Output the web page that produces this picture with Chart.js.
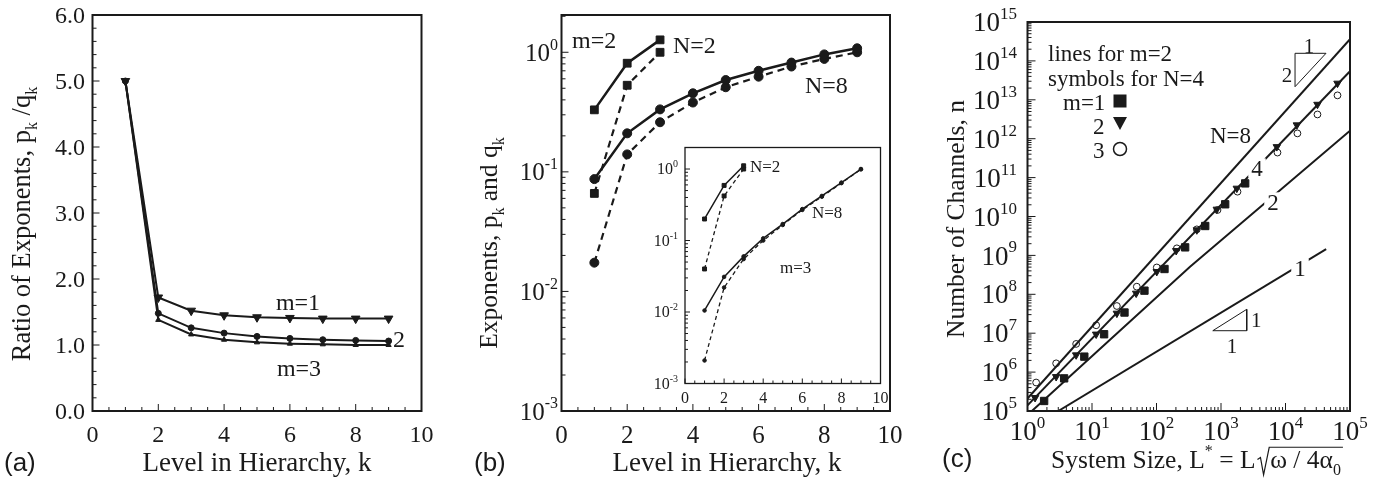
<!DOCTYPE html>
<html>
<head>
<meta charset="utf-8">
<script src="https://cdn.jsdelivr.net/npm/chart.js@4.4.1/dist/chart.umd.min.js"></script>
<style>
html, body { margin: 0; padding: 0; background: #fff; }
#wrap { position: relative; width: 1383px; height: 482px; overflow: hidden; }
canvas { position: absolute; left: 0; top: 0; }
</style>
</head>
<body>
<div id="wrap">
  <canvas id="chartA" width="1383" height="482"></canvas>
  <canvas id="chartB" width="1383" height="482"></canvas>
  <canvas id="chartC" width="1383" height="482"></canvas>
  <canvas id="chartInset" width="1383" height="482"></canvas>
</div>
<script>
// (a) ratio of exponents p_k/q_k
const levels = [1, 2, 3, 4, 5, 6, 7, 8, 9];
const ratioM1 = [5.0, 1.72, 1.52, 1.45, 1.42, 1.41, 1.40, 1.40, 1.40];
const ratioM2 = [5.0, 1.48, 1.26, 1.18, 1.13, 1.10, 1.08, 1.07, 1.06];
const ratioM3 = [5.0, 1.38, 1.16, 1.08, 1.04, 1.02, 1.01, 1.00, 1.00];
const ratioTicks = [0, 1, 2, 3, 4, 5, 6];
const ratioTickLabels = ['0.0', '1.0', '2.0', '3.0', '4.0', '5.0', '6.0'];
const levelTicks = [0, 2, 4, 6, 8, 10];
const levelTickLabels = ['0', '2', '4', '6', '8', '10'];

// (b) exponents, m=2 (solid = p, dashed = q)
const levelsN2 = [1, 2, 3];
const pN2 = [0.33, 0.81, 1.27];
const qN2 = [0.066, 0.53, 1.0];
const pN8 = [0.087, 0.21, 0.333, 0.454, 0.586, 0.70, 0.82, 0.96, 1.08];
const qN8 = [0.0174, 0.14, 0.26, 0.38, 0.51, 0.625, 0.76, 0.88, 1.0];
const exponentDecades = [-3, -2, -1, 0];

// (b) inset, m=3
const pN2m3 = [0.20, 0.59, 1.11];
const qN2m3 = [0.04, 0.42, 1.0];
const pN8m3 = [0.0105, 0.031, 0.060, 0.107, 0.17, 0.275, 0.42, 0.645, 1.0];
const qN8m3 = [0.0021, 0.022, 0.055, 0.100, 0.165, 0.268, 0.41, 0.635, 0.99];

// (c) number of channels, symbols for N=4
const sizeM1 = [1.81, 3.7, 7.6, 15.4, 31.9, 65, 133, 278, 569, 1161, 2371];
const chanM1 = [1.81e5, 6.9e5, 2.5e6, 9.4e6, 3.4e7, 1.24e8, 4.47e8, 1.61e9, 5.7e9, 2.06e10, 7.1e10];
const sizeM2 = [1.31, 2.78, 5.68, 11.6, 24.3, 48.4, 101, 202, 422, 861, 1758, 7340, 15000, 31300, 64000];
const chanM2 = [2.2e5, 7.6e5, 2.75e6, 9.4e6, 3.24e7, 1.06e8, 3.82e8, 1.32e9, 4.5e9, 1.53e10, 5.3e10, 6.2e11, 2.25e12, 7.6e12, 2.65e13];
const sizeM3 = [1.36, 2.78, 5.68, 11.6, 24.3, 49.5, 101, 207, 422, 883, 1803, 7510, 15300, 31300, 64000];
const chanM3 = [5.4e5, 1.68e6, 5.3e6, 1.6e7, 5.0e7, 1.57e8, 4.9e8, 1.52e9, 4.67e9, 1.47e10, 4.35e10, 4.4e11, 1.37e12, 4.2e12, 1.3e13];
// (c) lines for m=2
const lineSizeN8 = [1, 1e5];
const lineChanN8 = [2.1e5, 3.6e14];
const lineSizeN4 = [1, 1e5];
const lineChanN4 = [1.4e5, 5.4e13];
const lineSizeN2 = [1.17, 331, 1e5];
const lineChanN2 = [1e5, 5.1e8, 1.6e12];
const lineSizeN1 = [3.0, 4.27e4];
const lineChanN1 = [1e5, 1.45e9];
// slope triangles (2:1 and 1:1)
const triSize21 = [1.406e4, 4.246e4, 1.406e4, 1.406e4];
const triChan21 = [1.567e14, 1.567e14, 2.173e13, 1.567e14];
const triSize11 = [746, 2506, 2506, 746];
const triChan11 = [1.159e7, 4.11e7, 1.159e7, 1.159e7];
const channelDecades = [5, 6, 7, 8, 9, 10, 11, 12, 13, 14, 15];
const sizeDecades = [0, 1, 2, 3, 4, 5];

const W = 1383, H = 482;
const SERIF = '"Liberation Serif", "Times New Roman", serif';
const SANS = '"Liberation Sans", Arial, sans-serif';
const INK = '#1a1a1a';

function pts(xs, ys) {
    return xs.map((x, i) => ({ x: x, y: ys[i] }));
}

function series(xs, ys, o) {
    return Object.assign({
        data: pts(xs, ys),
        borderColor: INK,
        backgroundColor: INK,
        pointBackgroundColor: INK,
        pointBorderColor: INK,
        pointBorderWidth: 1,
        borderWidth: 2,
        pointRadius: 0,
        fill: false,
        tension: 0,
        showLine: true
    }, o);
}

// text with sub/superscript parts: [[text, 'sub'|'sup'|undefined], ...]
function rich(ctx, x, y, parts, size, align, family) {
    family = family || SERIF;
    const fonts = parts.map(p => (p[1] ? Math.round(size * 0.62) : size) + 'px ' + family);
    const widths = parts.map((p, i) => { ctx.font = fonts[i]; return ctx.measureText(p[0]).width; });
    const total = widths.reduce((s, w) => s + w, 0);
    let cx = align === 'center' ? x - total / 2 : align === 'right' ? x - total : x;
    ctx.textAlign = 'left';
    ctx.textBaseline = 'alphabetic';
    parts.forEach((p, i) => {
        ctx.font = fonts[i];
        const dy = p[1] === 'sup' ? -size * 0.45 : p[1] === 'sub' ? size * 0.28 : 0;
        ctx.fillText(p[0], cx, y + dy);
        cx += widths[i];
    });
    return total;
}
function textAt(ctx, x, yc, parts, size, align, family) {
    return rich(ctx, x, yc + size * 0.34, parts, size, align, family);
}
function vText(ctx, xc, yc, parts, size) {
    ctx.save();
    ctx.translate(xc, yc);
    ctx.rotate(-Math.PI / 2);
    rich(ctx, 0, size * 0.34, parts, size, 'center');
    ctx.restore();
}
function boxedText(ctx, xc, yc, str, size) {
    ctx.font = size + 'px ' + SERIF;
    const w = ctx.measureText(str).width;
    ctx.fillStyle = '#fff';
    ctx.fillRect(xc - w / 2 - 3, yc - size * 0.42, w + 6, size * 0.84);
    ctx.fillStyle = INK;
    textAt(ctx, xc, yc, [[str]], size, 'center');
}

function steps(from, to, step, skip) {
    const out = [];
    for (let v = from; v <= to + 1e-9; v += step) {
        const r = Math.round(v * 100) / 100;
        if (!skip || Math.abs(r / skip - Math.round(r / skip)) > 1e-6) out.push(r);
    }
    return out;
}
function logMinors(d0, d1, max) {
    const out = [];
    for (let d = d0; d < d1; d++) {
        for (let m = 2; m <= 9; m++) {
            const v = m * Math.pow(10, d);
            if (v <= max) out.push(v);
        }
    }
    return out;
}
function powLabels(decades) {
    return decades.map(e => [Math.pow(10, e), [['10'], [String(e), 'sup']]]);
}

// frame, inward ticks and tick labels
function frameAxes(o) {
    return {
        id: 'frameAxes',
        beforeDatasetsDraw(chart) {
            if (!o.whiteFill) return;
            const a = chart.chartArea, ctx = chart.ctx;
            ctx.save();
            ctx.fillStyle = '#fff';
            ctx.fillRect(a.left, a.top, a.right - a.left, a.bottom - a.top);
            ctx.restore();
        },
        afterDatasetsDraw(chart) {
            const ctx = chart.ctx, a = chart.chartArea;
            const sx = chart.scales.x, sy = chart.scales.y;
            ctx.save();
            ctx.strokeStyle = INK;
            ctx.lineWidth = 1;
            ctx.beginPath();
            o.xMajor.forEach(v => { const p = sx.getPixelForValue(v); ctx.moveTo(p, a.bottom); ctx.lineTo(p, a.bottom - o.majorLen); });
            o.xMinor.forEach(v => { const p = sx.getPixelForValue(v); ctx.moveTo(p, a.bottom); ctx.lineTo(p, a.bottom - o.minorLen); });
            o.yMajor.forEach(v => { const p = sy.getPixelForValue(v); ctx.moveTo(a.left, p); ctx.lineTo(a.left + o.majorLen, p); });
            o.yMinor.forEach(v => { const p = sy.getPixelForValue(v); ctx.moveTo(a.left, p); ctx.lineTo(a.left + o.minorLen, p); });
            ctx.stroke();
            ctx.lineWidth = o.frameWidth;
            ctx.strokeRect(a.left, a.top, a.right - a.left, a.bottom - a.top);

            ctx.fillStyle = INK;
            o.xLabels.forEach(l => textAt(ctx, sx.getPixelForValue(l[0]), o.xLabelY, l[1], o.tickSize, 'center'));
            o.yLabels.forEach(l => textAt(ctx, o.yLabelX, sy.getPixelForValue(l[0]), l[1], o.tickSize, 'right'));
            if (o.extra) o.extra(ctx, chart);
            ctx.restore();
        }
    };
}

function baseOptions(box, x, y) {
    return {
        responsive: false,
        animation: false,
        devicePixelRatio: 1,
        events: [],
        layout: { padding: { left: box.left, top: box.top, right: W - box.right, bottom: H - box.bottom } },
        plugins: { legend: { display: false }, tooltip: { enabled: false } },
        scales: { x: Object.assign({ display: false }, x), y: Object.assign({ display: false }, y) }
    };
}

// Panel (a)
new Chart(document.getElementById('chartA'), {
    type: 'line',
    data: {
        datasets: [
            series(levels, ratioM3, { pointStyle: 'triangle', pointRadius: 3 }),
            series(levels, ratioM2, { pointStyle: 'circle', pointRadius: 3 }),
            series(levels, ratioM1, { pointStyle: 'triangle', pointRotation: 180, pointRadius: 5 })
        ]
    },
    options: baseOptions({ left: 92.5, top: 15, right: 421.5, bottom: 411 },
        { type: 'linear', min: 0, max: 10 }, { type: 'linear', min: 0, max: 6 }),
    plugins: [frameAxes({
        xMajor: levelTicks, xMinor: steps(0, 10, 0.5, 2),
        yMajor: ratioTicks, yMinor: steps(0, 6, 0.2, 1),
        majorLen: 7, minorLen: 4, frameWidth: 2,
        xLabels: levelTicks.map((v, i) => [v, [[levelTickLabels[i]]]]), xLabelY: 434,
        yLabels: ratioTicks.map((v, i) => [v, [[ratioTickLabels[i]]]]), yLabelX: 85,
        tickSize: 24,
        extra(ctx) {
            textAt(ctx, 298, 302, [['m=1']], 24, 'center');
            textAt(ctx, 393, 339, [['2']], 24, 'left');
            textAt(ctx, 299, 368, [['m=3']], 24, 'center');
            vText(ctx, 21, 224, [['Ratio of Exponents, p'], ['k', 'sub'], [' /q'], ['k', 'sub']], 26.5);
            textAt(ctx, 257, 462, [['Level in Hierarchy, k']], 27, 'center');
            textAt(ctx, 4, 462, [['(a)']], 26, 'left', SANS);
        }
    })]
});

// Panel (b)
new Chart(document.getElementById('chartB'), {
    type: 'line',
    data: {
        datasets: [
            series(levelsN2, pN2, { pointStyle: 'rect', pointRadius: 5.5, borderWidth: 2.5 }),
            series(levelsN2, qN2, { pointStyle: 'rect', pointRadius: 5.5, borderWidth: 2.2, borderDash: [7, 5] }),
            series(levels, pN8, { pointStyle: 'circle', pointRadius: 4.5, borderWidth: 2.5 }),
            series(levels, qN8, { pointStyle: 'circle', pointRadius: 4.5, borderWidth: 2.2, borderDash: [7, 5] })
        ]
    },
    options: baseOptions({ left: 561.5, top: 15, right: 890, bottom: 411 },
        { type: 'linear', min: 0, max: 10 }, { type: 'logarithmic', min: 1e-3, max: 2.05 }),
    plugins: [frameAxes({
        xMajor: levelTicks, xMinor: steps(0, 10, 0.5, 2),
        yMajor: exponentDecades.map(e => Math.pow(10, e)), yMinor: logMinors(-3, 1, 2.05),
        majorLen: 7, minorLen: 4, frameWidth: 2,
        xLabels: levelTicks.map((v, i) => [v, [[levelTickLabels[i]]]]), xLabelY: 434,
        yLabels: powLabels(exponentDecades), yLabelX: 558,
        tickSize: 25,
        extra(ctx) {
            textAt(ctx, 572, 40, [['m=2']], 24, 'left');
            textAt(ctx, 673, 45, [['N=2']], 24, 'left');
            textAt(ctx, 805, 85, [['N=8']], 24, 'left');
            vText(ctx, 488, 243, [['Exponents, p'], ['k', 'sub'], [' and q'], ['k', 'sub']], 25.5);
            textAt(ctx, 727, 462, [['Level in Hierarchy, k']], 27, 'center');
            textAt(ctx, 474, 462, [['(b)']], 26, 'left', SANS);
        }
    })]
});

// Inset of (b), m=3
new Chart(document.getElementById('chartInset'), {
    type: 'line',
    data: {
        datasets: [
            series(levelsN2, pN2m3, { pointStyle: 'rect', pointRadius: 2.8, borderWidth: 1.5 }),
            series(levelsN2, qN2m3, { pointStyle: 'rect', pointRadius: 2.8, borderWidth: 1.3, borderDash: [4, 3] }),
            series(levels, pN8m3, { pointStyle: 'circle', pointRadius: 1.8, borderWidth: 1.5 }),
            series(levels, qN8m3, { pointStyle: 'circle', pointRadius: 1.8, borderWidth: 1.3, borderDash: [4, 3] })
        ]
    },
    options: baseOptions({ left: 685, top: 147.5, right: 880.5, bottom: 383.5 },
        { type: 'linear', min: 0, max: 10 }, { type: 'logarithmic', min: 1e-3, max: 2 }),
    plugins: [frameAxes({
        whiteFill: true,
        xMajor: levelTicks, xMinor: steps(0, 10, 0.5, 2),
        yMajor: exponentDecades.map(e => Math.pow(10, e)), yMinor: logMinors(-3, 1, 2),
        majorLen: 5, minorLen: 3, frameWidth: 1.3,
        xLabels: levelTicks.map((v, i) => [v, [[levelTickLabels[i]]]]), xLabelY: 398,
        yLabels: powLabels(exponentDecades), yLabelX: 678,
        tickSize: 16,
        extra(ctx) {
            textAt(ctx, 750, 166, [['N=2']], 17, 'left');
            textAt(ctx, 812, 212, [['N=8']], 17, 'left');
            textAt(ctx, 780, 267, [['m=3']], 17, 'left');
        }
    })]
});

// Panel (c)
function sizeTitle(ctx, xc, yc, size) {
    const head = [['System Size, L'], ['*', 'sup'], [' = L']];
    const inner = [['\u03c9 / 4\u03b1'], ['0', 'sub']];
    const measure = parts => parts.reduce((s, p) => {
        ctx.font = (p[1] ? Math.round(size * 0.62) : size) + 'px ' + SERIF;
        return s + ctx.measureText(p[0]).width;
    }, 0);
    const w1 = measure(head), w2 = measure(inner), rad = size * 0.5;
    const x0 = xc - (w1 + rad + w2) / 2;
    const base = yc + size * 0.34;
    rich(ctx, x0, base, head, size, 'left');
    const rx = x0 + w1 + 2;
    ctx.beginPath();
    ctx.lineWidth = 1.2;
    ctx.moveTo(rx, base - size * 0.32);
    ctx.lineTo(rx + 3, base - size * 0.4);
    ctx.lineTo(rx + size * 0.24, base + size * 0.28);
    ctx.lineTo(rx + rad - 1, base - size * 0.8);
    ctx.lineTo(rx + rad + w2 + 2, base - size * 0.8);
    ctx.stroke();
    rich(ctx, rx + rad, base, inner, size, 'left');
}

new Chart(document.getElementById('chartC'), {
    type: 'line',
    data: {
        datasets: [
            series(lineSizeN8, lineChanN8, { clip: 0 }),
            series(lineSizeN4, lineChanN4, { clip: 0 }),
            series(lineSizeN2, lineChanN2, { clip: 0 }),
            series(lineSizeN1, lineChanN1, { clip: 0 }),
            series(triSize21, triChan21, { borderWidth: 1 }),
            series(triSize11, triChan11, { borderWidth: 1 }),
            series(sizeM1, chanM1, { showLine: false, pointStyle: 'rect', pointRadius: 5.2 }),
            series(sizeM2, chanM2, { showLine: false, pointStyle: 'triangle', pointRotation: 180, pointRadius: 4.3 }),
            series(sizeM3, chanM3, { showLine: false, pointStyle: 'circle', pointRadius: 3.4, pointBackgroundColor: '#fff', pointBorderWidth: 1 })
        ]
    },
    options: baseOptions({ left: 1027.5, top: 22, right: 1350, bottom: 411 },
        { type: 'logarithmic', min: 1, max: 1e5 }, { type: 'logarithmic', min: 1e5, max: 1e15 }),
    plugins: [frameAxes({
        xMajor: sizeDecades.map(e => Math.pow(10, e)), xMinor: logMinors(0, 5, 1e5),
        yMajor: channelDecades.map(e => Math.pow(10, e)), yMinor: logMinors(5, 15, 1e15),
        majorLen: 8, minorLen: 4, frameWidth: 2,
        xLabels: powLabels(sizeDecades), xLabelY: 431,
        yLabels: powLabels(channelDecades), yLabelX: 1017,
        tickSize: 27,
        extra(ctx) {
            textAt(ctx, 1048, 53, [['lines for m=2']], 23, 'left');
            textAt(ctx, 1048, 78, [['symbols for N=4']], 23, 'left');
            textAt(ctx, 1063, 102, [['m=1']], 23, 'left');
            textAt(ctx, 1093, 126, [['2']], 23, 'left');
            textAt(ctx, 1093, 150, [['3']], 23, 'left');
            ctx.fillStyle = INK;
            ctx.fillRect(1113.5, 94.5, 13, 13);
            ctx.beginPath();
            ctx.moveTo(1113, 117); ctx.lineTo(1127, 117); ctx.lineTo(1120, 130); ctx.closePath();
            ctx.fill();
            ctx.beginPath();
            ctx.lineWidth = 1.5;
            ctx.arc(1120, 149, 6.5, 0, Math.PI * 2);
            ctx.stroke();
            textAt(ctx, 1210, 135, [['N=8']], 23, 'left');
            boxedText(ctx, 1257, 168, '4', 23);
            boxedText(ctx, 1273, 202, '2', 23);
            boxedText(ctx, 1300, 268, '1', 23);
            textAt(ctx, 1309, 46, [['1']], 21, 'center');
            textAt(ctx, 1287, 75, [['2']], 21, 'center');
            textAt(ctx, 1251, 320, [['1']], 21, 'left');
            textAt(ctx, 1232, 346, [['1']], 21, 'center');
            vText(ctx, 955, 219, [['Number of Channels, n']], 25.5);
            sizeTitle(ctx, 1195, 459, 25.5);
            textAt(ctx, 942, 458, [['(c)']], 26, 'left', SANS);
        }
    })]
});
</script>
</body>
</html>
